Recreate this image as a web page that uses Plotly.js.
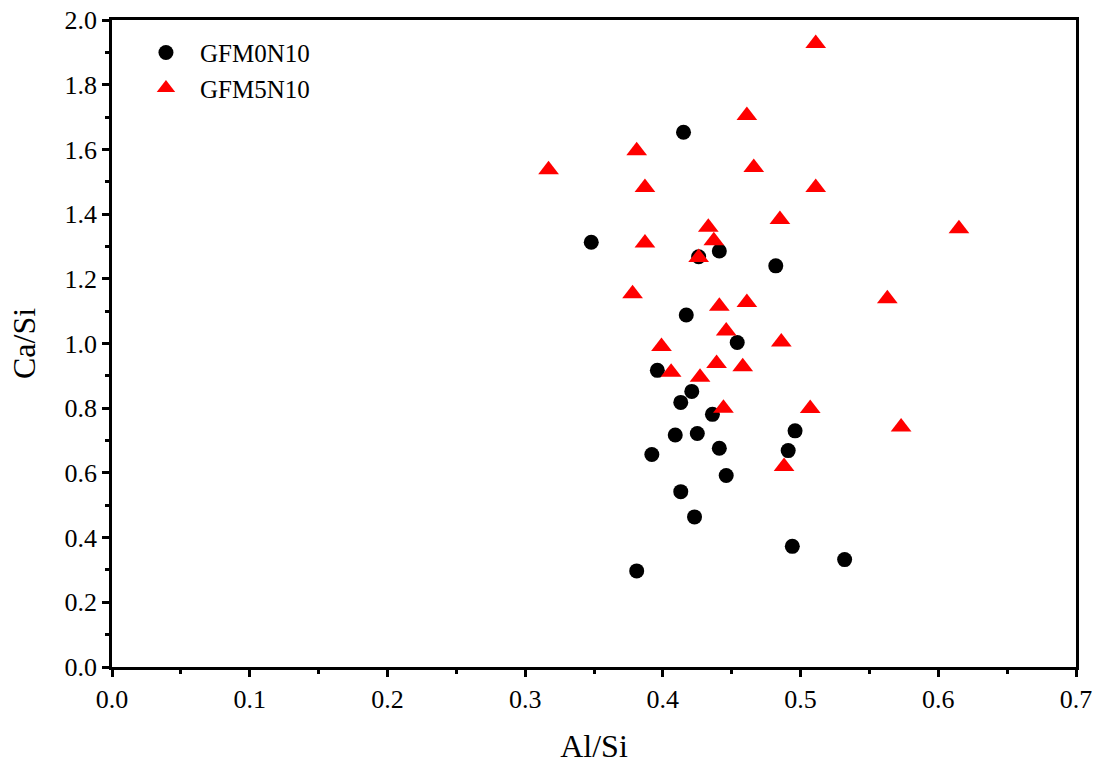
<!DOCTYPE html>
<html>
<head>
<meta charset="utf-8">
<script src="https://cdn.plot.ly/plotly-3.0.1.min.js"></script>
<style>
  html, body { margin: 0; padding: 0; background: #ffffff; }
  #chart { width: 1101px; height: 765px; }
</style>
</head>
<body>
<div id="chart"></div>
<script>
// Al/Si vs Ca/Si ratios for the two compositions
const seriesNames = ["GFM0N10", "GFM5N10"];

const gfm0n10AlSi = [0.415, 0.348, 0.426, 0.441, 0.482, 0.417, 0.454, 0.396, 0.421, 0.413,
                     0.436, 0.409, 0.425, 0.496, 0.441, 0.491, 0.392, 0.446, 0.413, 0.423,
                     0.494, 0.532, 0.381];
const gfm0n10CaSi = [1.653, 1.313, 1.268, 1.286, 1.240, 1.088, 1.003, 0.917, 0.852, 0.818,
                     0.781, 0.717, 0.722, 0.730, 0.676, 0.669, 0.657, 0.592, 0.542, 0.464,
                     0.373, 0.332, 0.297];

const gfm5n10AlSi = [0.511, 0.461, 0.381, 0.317, 0.466, 0.387, 0.485, 0.433, 0.437, 0.387,
                     0.426, 0.378, 0.441, 0.461, 0.446, 0.486, 0.399, 0.439, 0.458, 0.406,
                     0.427, 0.444, 0.507, 0.488, 0.573, 0.511, 0.615, 0.563];
const gfm5n10CaSi = [1.927, 1.705, 1.596, 1.537, 1.544, 1.482, 1.383, 1.359, 1.318, 1.311,
                     1.266, 1.154, 1.115, 1.127, 1.039, 1.005, 0.991, 0.938, 0.928, 0.911,
                     0.896, 0.800, 0.799, 0.620, 0.742, 1.482, 1.355, 1.138];

const xTickVals = [0, 0.1, 0.2, 0.3, 0.4, 0.5, 0.6, 0.7];
const xTickText = ["0.0", "0.1", "0.2", "0.3", "0.4", "0.5", "0.6", "0.7"];
const yTickVals = [0, 0.2, 0.4, 0.6, 0.8, 1.0, 1.2, 1.4, 1.6, 1.8, 2.0];
const yTickText = ["0.0", "0.2", "0.4", "0.6", "0.8", "1.0", "1.2", "1.4", "1.6", "1.8", "2.0"];

const serif = "Liberation Serif";
const tickFont = { family: serif, size: 26, color: "#000000" };

const traces = [
  {
    type: "scatter", mode: "markers", name: seriesNames[0],
    x: gfm0n10AlSi, y: gfm0n10CaSi,
    marker: { symbol: "circle", size: 15, color: "#000000" },
    cliponaxis: false
  },
  {
    type: "scatter", mode: "markers", name: seriesNames[1],
    x: gfm5n10AlSi, y: gfm5n10CaSi,
    marker: { symbol: "triangle-up", size: 18, color: "#ff0000" },
    cliponaxis: false
  }
];

const layout = {
  width: 1101, height: 765,
  margin: { l: 112, r: 25, t: 20, b: 98 },
  paper_bgcolor: "#ffffff", plot_bgcolor: "#ffffff",
  font: { family: serif, size: 26, color: "#000000" },
  xaxis: {
    range: [0, 0.7], autorange: false,
    tickmode: "array", tickvals: xTickVals, ticktext: xTickText, tickfont: tickFont,
    showline: true, linecolor: "#000000", linewidth: 2.5, mirror: true,
    showgrid: false, zeroline: false,
    ticks: "outside", ticklen: 7, tickwidth: 2.5, tickcolor: "#000000",
    minor: { dtick: 0.05, tick0: 0, ticks: "outside", ticklen: 4, tickwidth: 2.5, tickcolor: "#000000" },
    title: { text: "Al/Si", font: { family: serif, size: 32, color: "#000000" }, standoff: 22 }
  },
  yaxis: {
    range: [0, 2.0], autorange: false,
    tickmode: "array", tickvals: yTickVals, ticktext: yTickText, tickfont: tickFont,
    showline: true, linecolor: "#000000", linewidth: 2.5, mirror: true,
    showgrid: false, zeroline: false,
    ticks: "outside", ticklen: 7, tickwidth: 2.5, tickcolor: "#000000",
    minor: { dtick: 0.1, tick0: 0, ticks: "outside", ticklen: 4, tickwidth: 2.5, tickcolor: "#000000" },
    title: { text: "Ca/Si", font: { family: serif, size: 32, color: "#000000" }, standoff: 20 }
  },
  legend: {
    x: 0.0207, y: 0.985, xanchor: "left", yanchor: "top",
    bgcolor: "rgba(0,0,0,0)", borderwidth: 0,
    font: { family: serif, size: 25, color: "#000000" },
    itemwidth: 58, tracegroupgap: 0
  },
  showlegend: true
};

Plotly.newPlot("chart", traces, layout, { displayModeBar: false });
</script>
</body>
</html>
